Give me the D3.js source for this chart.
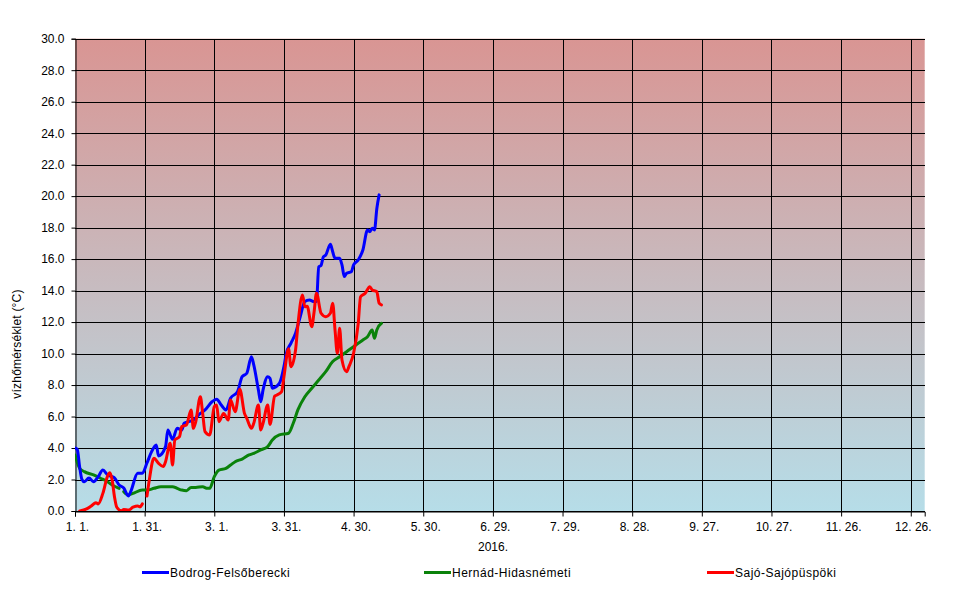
<!DOCTYPE html>
<html>
<head>
<meta charset="utf-8">
<script src="https://cdn.jsdelivr.net/npm/d3@7"></script>
<style>
html,body{margin:0;padding:0;background:#fff;}
svg{display:block;font-family:"Liberation Sans",Arial,sans-serif;}
</style>
</head>
<body>
<svg id="chart" width="967" height="589"></svg>
<script>
// ---- data (day offset from 2016-01-01, water temperature °C) ----
const seriesNames = ["Bodrog-Felsőberecki", "Hernád-Hidasnémeti", "Sajó-Sajópüspöki"];
const seriesColors = ["#0000ff", "#0a820a", "#ff0000"];

const bodrog = [[0,4.0],[1,3.9],[2,2.8],[3,2.0],[4,1.86],[6,2.1],[8,1.86],[10,2.18],[12,2.6],[14,2.3],[16,2.18],[17,2.1],[19,1.65],[21,1.46],[23,0.95],[24,1.23],[27,2.4],[29,2.4],[31,3.05],[33,3.77],[35,4.19],[36,3.5],[39,4.09],[40,5.15],[42,4.55],[44,5.25],[46,5.15],[47,5.57],[51,5.78],[54,6.2],[56,6.42],[59,6.94],[61,7.1],[63,6.73],[65,6.42],[67,7.16],[70,7.58],[72,8.53],[74,8.75],[76,9.8],[77,9.28],[79,7.69],[80,6.94],[81,7.69],[83,8.53],[84,8.43],[85,7.8],[88,8.1],[90,9.17],[91,10.0],[93,10.65],[95,11.29],[97,12.34],[99,13.3],[101,13.4],[103,13.3],[104,13.3],[105,15.5],[106,15.6],[107,16.15],[108,16.26],[110,16.94],[111,16.47],[112,16.05],[114,16.05],[115,15.63],[116,14.89],[117,15.1],[119,15.2],[120,15.63],[122,15.95],[124,16.58],[126,17.85],[127,17.74],[128,17.96],[129,17.85],[130,19.2],[131,20.08]];

const hernad = [[0,3.56],[2,2.71],[4,2.5],[8,2.29],[11,2.08],[14,1.86],[16,1.65],[19,1.44],[20,null],[21,1.23],[23,1.02],[25,1.12],[29,1.33],[31,1.33],[34,1.44],[37,1.54],[39,1.54],[42,1.54],[44,1.44],[46,1.33],[48,1.29],[50,1.5],[52,1.5],[55,1.54],[57,1.44],[58,1.44],[60,2.18],[62,2.6],[65,2.71],[67,2.92],[69,3.13],[72,3.3],[75,3.56],[77,3.66],[80,3.88],[83,4.09],[85,4.51],[88,4.83],[92,4.94],[94,5.57],[96,6.42],[99,7.26],[102,7.8],[105,8.32],[108,8.85],[111,9.49],[114,9.8],[117,10.12],[121,10.55],[124,10.86],[126,11.07],[128,11.5],[129,10.97],[130,11.5],[132,11.92]];

const sajo = [[2,0.0],[5,0.13],[7,0.32],[9,0.53],[10,0.45],[12,1.12],[14,2.2],[15,2.43],[16,1.97],[17,0.91],[18,0.24],[20,0.02],[21,0.1],[23,0.06],[25,0.24],[27,0.32],[28,0.27],[29,0.45],[30,null],[31,0.95],[32,1.97],[34,3.35],[36,3.03],[38,2.82],[39,3.13],[41,4.3],[42,2.92],[43,4.51],[45,4.72],[46,5.36],[48,5.46],[50,6.42],[51,5.25],[52,5.67],[54,7.26],[55,6.2],[56,5.04],[58,4.83],[60,6.63],[61,6.73],[62,5.67],[64,6.2],[66,5.78],[67,7.05],[69,6.31],[71,7.73],[73,6.2],[74,5.89],[76,5.25],[77,5.57],[79,6.73],[80,5.15],[81,5.57],[83,6.73],[84,5.5],[86,7.3],[87,7.37],[89,7.58],[90,8.53],[92,10.3],[93,9.17],[95,10.23],[96,11.8],[98,13.72],[99,12.98],[100,13.0],[102,11.71],[103,12.66],[104,13.83],[106,12.56],[108,12.34],[110,12.56],[111,13.2],[112,11.5],[113,10.02],[114,11.61],[115,9.59],[117,8.85],[118,9.17],[120,10.02],[122,11.92],[123,13.61],[125,13.83],[127,14.25],[128,14.04],[130,13.93],[131,13.2],[132,13.09]];

const xTickDates = ["2016-01-01","2016-01-31","2016-03-01","2016-03-31","2016-04-30","2016-05-30","2016-06-29","2016-07-29","2016-08-28","2016-09-27","2016-10-27","2016-11-26","2016-12-26"];
const xTickLabels = ["1. 1.","1. 31.","3. 1.","3. 31.","4. 30.","5. 30.","6. 29.","7. 29.","8. 28.","9. 27.","10. 27.","11. 26.","12. 26."];
const yTicks = [0,2,4,6,8,10,12,14,16,18,20,22,24,26,28,30];
const yTitle = "vízhőmérséklet  (°C)";
const xTitle = "2016.";

// ---- layout ----
const svg = d3.select("#chart");
const L = 75, R = 924.7, T = 38.7, B = 511;
const start = new Date(2016,0,1);
const parse = d3.timeParse("%Y-%m-%d");
const x = d3.scaleTime().domain([start, new Date(2017,0,1)]).range([L, R]);
const y = d3.scaleLinear().domain([0,30]).range([B, T]);
const dayDate = d => d3.timeDay.offset(start, d);

// background gradient
const defs = svg.append("defs");
const grad = defs.append("linearGradient").attr("id","bg").attr("x1",0).attr("y1",0).attr("x2",0).attr("y2",1);
grad.append("stop").attr("offset","0%").attr("stop-color","#d99593");
grad.append("stop").attr("offset","50%").attr("stop-color","#c8babe");
grad.append("stop").attr("offset","100%").attr("stop-color","#b6dde8");
svg.append("rect").attr("x",L).attr("y",T).attr("width",R-L).attr("height",B-T).attr("fill","url(#bg)");

// grid
const grid = svg.append("g").attr("stroke","#000").attr("stroke-width",1).attr("shape-rendering","crispEdges");
grid.selectAll("line.h").data(yTicks).join("line")
  .attr("x1",L).attr("x2",R).attr("y1",d=>Math.round(y(d))+0.5).attr("y2",d=>Math.round(y(d))+0.5);
grid.selectAll("line.v").data(xTickDates.slice(1)).join("line")
  .attr("y1",T).attr("y2",B).attr("x1",d=>Math.round(x(parse(d)))+0.5).attr("x2",d=>Math.round(x(parse(d)))+0.5);

// axes
const yAxis = d3.axisLeft(y).tickValues(yTicks).tickFormat(d3.format(".1f")).tickSize(4).tickPadding(7);
const gy = svg.append("g").attr("transform",`translate(${L+0.5},0)`).call(yAxis);
gy.select(".domain").attr("stroke","#000");
gy.selectAll("text").attr("font-size",12).attr("fill","#000").attr("font-family","Liberation Sans, Arial, sans-serif");

const xAxis = d3.axisBottom(x).tickValues(xTickDates.map(parse)).tickFormat((d,i)=>xTickLabels[i]).tickSize(5).tickPadding(6);
const gx = svg.append("g").attr("transform",`translate(0,${B+0.5})`).call(xAxis);
gx.select(".domain").attr("stroke","#000");
gx.selectAll("text").attr("font-size",12).attr("fill","#000").attr("dx",2).attr("font-family","Liberation Sans, Arial, sans-serif");

// titles
svg.append("text").attr("x",493).attr("y",551).attr("text-anchor","middle").attr("font-size",12).text(xTitle);
svg.append("text").attr("transform","translate(21,344) rotate(-90)").attr("text-anchor","middle").attr("font-size",12).attr("letter-spacing","0.2px").text(yTitle);

// lines
const line = d3.line().defined(d=>d[1]!==null).x(d=>x(dayDate(d[0]))).y(d=>y(d[1])).curve(d3.curveMonotoneX);
const clip = defs.append("clipPath").attr("id","clip").append("rect").attr("x",L).attr("y",T-3).attr("width",R-L).attr("height",B-T+3);
const allSeries = [bodrog, hernad, sajo];
const drawOrder = [1,0,2];
drawOrder.forEach(i=>{
  svg.append("path").datum(allSeries[i]).attr("d",line).attr("fill","none")
    .attr("stroke",seriesColors[i]).attr("stroke-width",3).attr("stroke-linejoin","round").attr("stroke-linecap","round")
    .attr("clip-path","url(#clip)");
});

// legend
const legendX = [142, 424, 707];
const lg = svg.append("g");
seriesNames.forEach((n,i)=>{
  lg.append("line").attr("x1",legendX[i]).attr("x2",legendX[i]+27).attr("y1",572.5).attr("y2",572.5)
    .attr("stroke",seriesColors[i]).attr("stroke-width",3);
  lg.append("text").attr("x",legendX[i]+28).attr("y",577).attr("font-size",12).attr("letter-spacing","0.5px").text(n);
});
</script>
</body>
</html>
